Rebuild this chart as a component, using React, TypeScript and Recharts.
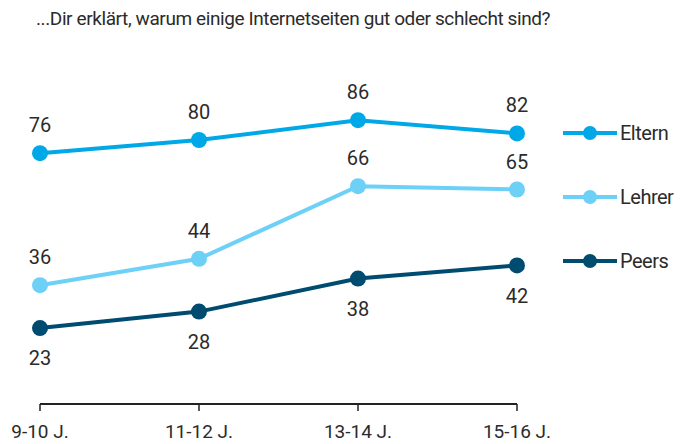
import React from 'react';
import { LineChart, Line, XAxis, YAxis, LabelList } from 'recharts';

const categories = ['9-10 J.', '11-12 J.', '13-14 J.', '15-16 J.'];
const eltern = [76, 80, 86, 82];
const lehrer = [36, 44, 66, 65];
const peers = [23, 28, 38, 42];

const seriesInfo = [
  { key: 'Eltern', color: '#00a8e8', values: eltern, labelPos: 'top', offset: 21 },
  { key: 'Lehrer', color: '#6dd0f7', values: lehrer, labelPos: 'top', offset: 21 },
  { key: 'Peers', color: '#004b70', values: peers, labelPos: 'bottom', offset: 23 },
];

const data = categories.map((c, i) => ({
  name: c,
  Eltern: eltern[i],
  Lehrer: lehrer[i],
  Peers: peers[i],
}));

const FONT = '"Liberation Sans Narrow", Roboto, sans-serif';
const TEXT = '#2b2b2b';

const LegendBox = () => (
  <div style={{ position: 'absolute', left: 563, top: 101 }}>
    {seriesInfo.map((s) => (
      <div key={s.key} style={{ display: 'flex', alignItems: 'center', height: 64 }}>
        <svg width={56} height={20}>
          <line x1={0} y1={10} x2={54} y2={10} stroke={s.color} strokeWidth={4} />
          <circle cx={27} cy={10} r={7} fill={s.color} />
        </svg>
        <span style={{ fontFamily: FONT, fontSize: 20, color: TEXT, marginLeft: 1, letterSpacing: -0.5 }}>{s.key}</span>
      </div>
    ))}
  </div>
);

export default function App() {
  return (
    <div style={{ position: 'absolute', left: 0, top: 0, width: 687, height: 444, background: '#fff' }}>
      <div
        style={{
          position: 'absolute',
          left: 36,
          top: 7,
          fontFamily: FONT,
          fontSize: 19,
          color: TEXT,
          whiteSpace: 'nowrap',
          letterSpacing: -0.4,
        }}
      >
        ...Dir erklärt, warum einige Internetseiten gut oder schlecht sind?
      </div>
      <LineChart
        width={687}
        height={444}
        data={data}
        margin={{ top: 74, right: 170, bottom: 10, left: 40 }}
      >
        <XAxis
          dataKey="name"
          axisLine={{ stroke: '#222', strokeWidth: 2 }}
          tickLine={{ stroke: '#222', strokeWidth: 1.5 }}
          tickSize={7}
          tickMargin={14}
          height={30}
          tick={{ fill: TEXT, fontSize: 19, fontFamily: FONT }}
          interval={0}
        />
        <YAxis hide domain={[0, 100]} />
        {seriesInfo.map((s) => (
          <Line
            key={s.key}
            dataKey={s.key}
            stroke={s.color}
            strokeWidth={4}
            dot={{ r: 8, fill: s.color, stroke: 'none' }}
            activeDot={false}
            isAnimationActive={false}
          >
            <LabelList
              dataKey={s.key}
              position={s.labelPos as 'top' | 'bottom'}
              offset={s.offset}
              fill={TEXT}
              fontSize={20}
              fontFamily={FONT}
            />
          </Line>
        ))}
      </LineChart>
      <LegendBox />
    </div>
  );
}
